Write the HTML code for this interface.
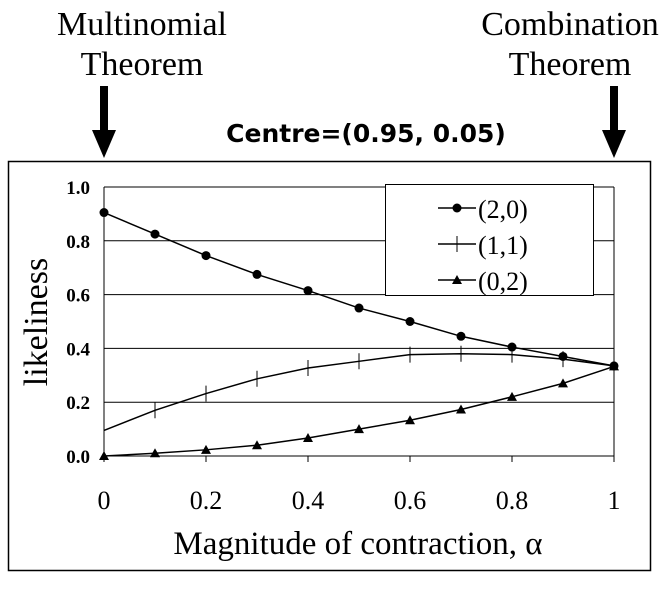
<!DOCTYPE html>
<html><head><meta charset="utf-8"><style>
html,body{margin:0;padding:0;background:#fff;}
svg text{font-family:"Liberation Serif",serif;}
</style></head><body>
<svg width="672" height="588" viewBox="0 0 672 588" xmlns="http://www.w3.org/2000/svg">
<text x="142" y="35" font-size="34" text-anchor="middle">Multinomial</text>
<text x="142" y="75" font-size="34" text-anchor="middle">Theorem</text>
<text x="570" y="35" font-size="34" text-anchor="middle">Combination</text>
<text x="570" y="75" font-size="34" text-anchor="middle">Theorem</text>
<g><rect x="100" y="86" width="8" height="46" fill="#000"/><polygon points="92,130 116,130 104,158" fill="#000"/></g>
<g><rect x="610" y="86" width="8" height="46" fill="#000"/><polygon points="602,130 626,130 614,158" fill="#000"/></g>
<text x="366" y="142" font-size="25" font-weight="bold" text-anchor="middle" style="font-family:'DejaVu Sans','Liberation Sans',sans-serif">Centre=(0.95, 0.05)</text>
<rect x="8.5" y="161.5" width="642" height="409" fill="none" stroke="#000" stroke-width="1.5"/>
<g id="grid"></g>
<g id="axes"></g>
<g id="series"></g>
<text transform="translate(47,322) rotate(-90)" font-size="34" text-anchor="middle">likeliness</text>
<text x="358" y="554" font-size="33" text-anchor="middle">Magnitude of contraction, α</text>
<g>
<rect x="385.5" y="184.5" width="208" height="111" fill="#fff" stroke="#000"/>
<g><line x1="438" y1="208" x2="476" y2="208" stroke="#000" stroke-width="1.5"/><circle cx="457" cy="208" r="4.5"/><text x="478" y="218" font-size="26">(2,0)</text></g>
<g><line x1="438" y1="244" x2="476" y2="244" stroke="#000" stroke-width="1.5"/><line x1="457" y1="236" x2="457" y2="252" stroke="#000"/><text x="478" y="254" font-size="26">(1,1)</text></g>
<g><line x1="438" y1="280" x2="476" y2="280" stroke="#000" stroke-width="1.5"/><polygon points="457,275 462,284 452,284"/><text x="478" y="290" font-size="26">(0,2)</text></g>
</g>
</svg>
<script>
const xs=[0,0.1,0.2,0.3,0.4,0.5,0.6,0.7,0.8,0.9,1];
const s20=[0.905,0.825,0.745,0.675,0.615,0.55,0.5,0.445,0.405,0.37,0.335];
const s11=[0.095,0.17,0.232,0.287,0.327,0.352,0.377,0.38,0.377,0.36,0.335];
const s02=[0,0.01,0.023,0.04,0.067,0.1,0.133,0.173,0.22,0.27,0.333];
const yTicks=[0,0.2,0.4,0.6,0.8,1.0];
const xTicks=[0,0.2,0.4,0.6,0.8,1];
const NS="http://www.w3.org/2000/svg";
const X=v=>104+v*510, Y=v=>456-v*269;
function mk(t,a,p){const e=document.createElementNS(NS,t);for(const k in a)e.setAttribute(k,a[k]);p.appendChild(e);return e;}
const grid=document.getElementById('grid'),axes=document.getElementById('axes'),ser=document.getElementById('series');
yTicks.forEach(v=>{
 const l=mk('line',{x1:104,x2:614,y1:Y(v),y2:Y(v),stroke:'#000','stroke-width':1},grid);
 
 
 const t=mk('text',{x:90,y:Y(v)+7,'font-size':19,'font-weight':'bold','text-anchor':'end'},axes);
 t.textContent=v.toFixed(1);
 
 
});
const ax=mk('line',{x1:104,x2:104,y1:187,y2:462,stroke:'#000'},axes);


const rx=mk('line',{x1:614,x2:614,y1:187,y2:462,stroke:'#000'},axes);


xTicks.forEach(v=>{
 const tk=mk('line',{x1:X(v),x2:X(v),y1:456,y2:462,stroke:'#000'},axes);
 
 
 const t=mk('text',{x:X(v),y:509,'font-size':26,'text-anchor':'middle'},axes);
 t.textContent=String(v);
 
 
});
function line(arr,name){
 const p=mk('polyline',{points:arr.map((v,i)=>X(xs[i])+','+Y(v)).join(' '),fill:'none',stroke:'#000','stroke-width':1.5},ser);
 
 
}
line(s20,'series-2-0-line');line(s11,'series-1-1-line');line(s02,'series-0-2-line');
s20.forEach((v,i)=>{const c=mk('circle',{cx:X(xs[i]),cy:Y(v),r:4.5},ser);
 
 });
s11.forEach((v,i)=>{const c=mk('line',{x1:X(xs[i]),x2:X(xs[i]),y1:Y(v)-8,y2:Y(v)+8,stroke:'#000'},ser);
 
 });
s02.forEach((v,i)=>{const x=X(xs[i]),y=Y(v);const c=mk('polygon',{points:`${x},${y-5} ${x+5},${y+4} ${x-5},${y+4}`},ser);
 
 });
</script>
</body></html>
